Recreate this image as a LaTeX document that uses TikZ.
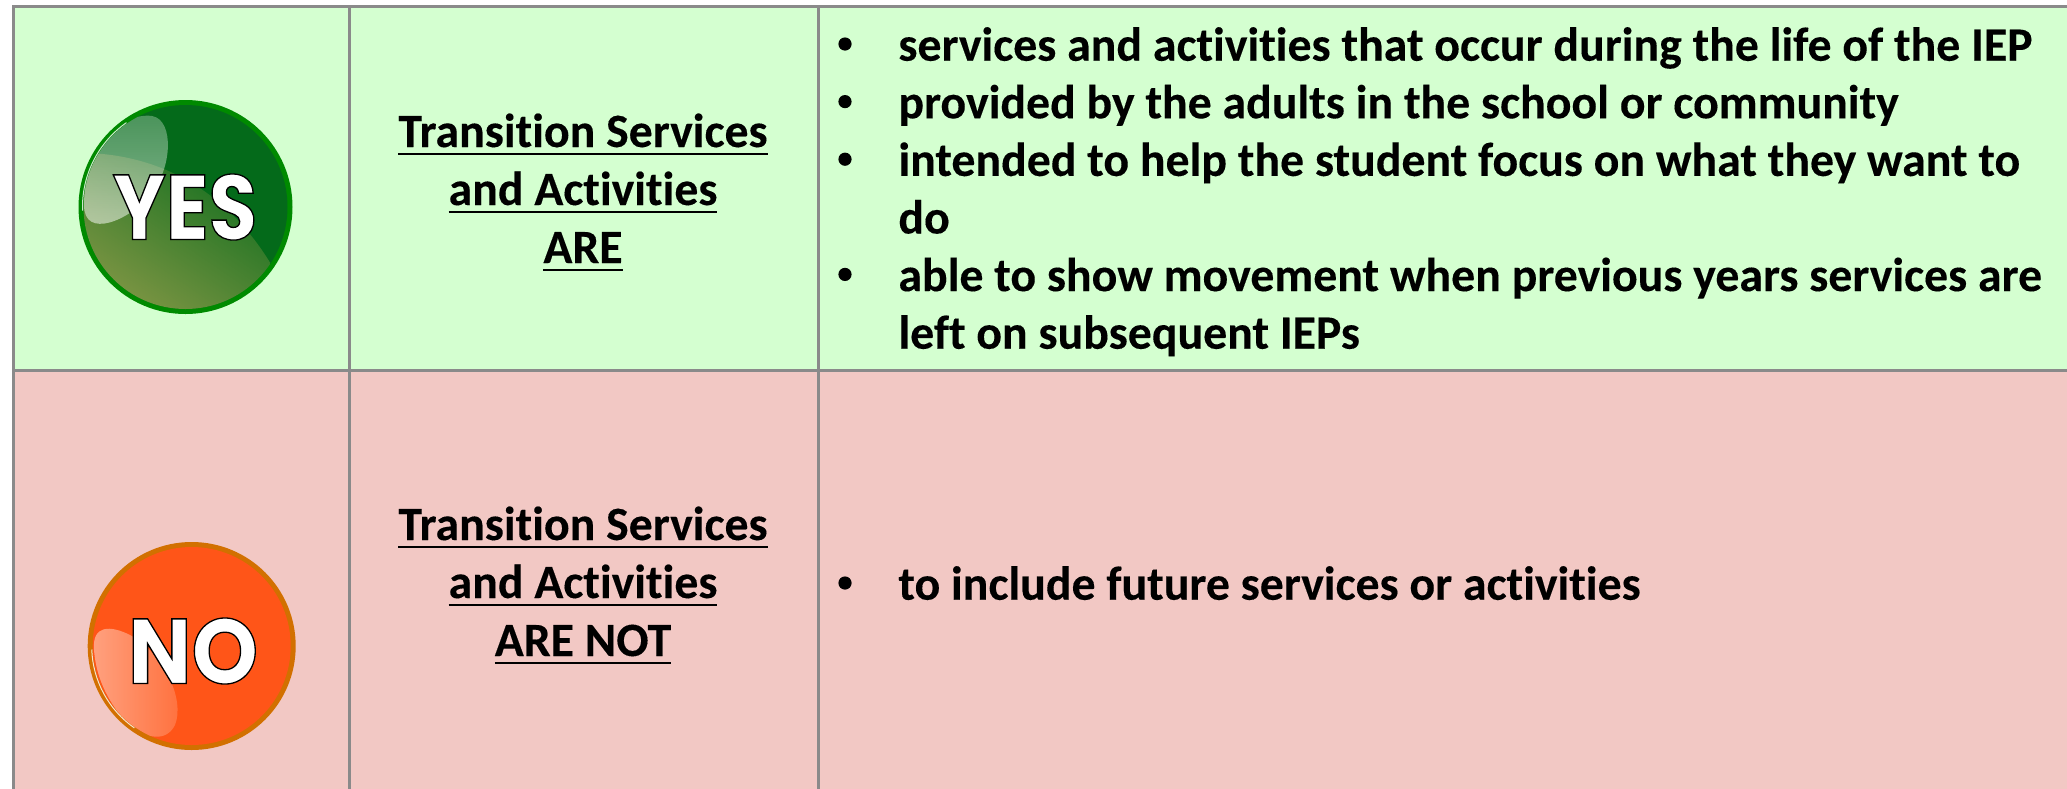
\documentclass[tikz,border=0pt]{standalone}
\usepackage{fontspec}
\setmainfont{Carlito}[Ligatures=NoCommon,BoldFeatures={FakeBold=0.2}]
\newfontfamily\badgeY{Poppins}[FakeStretch=0.86]
\newfontfamily\badgeN{Poppins}[FakeStretch=0.92]
\usetikzlibrary{fadings}
\definecolor{gridgrey}{HTML}{8A8A8A}
\definecolor{yesbg}{HTML}{D4FFD0}
\definecolor{nobg}{HTML}{F2C8C4}
\definecolor{yesring}{HTML}{008A00}
\definecolor{yesbase}{HTML}{046A1A}
\definecolor{noring}{HTML}{D27000}
\definecolor{nobase}{HTML}{FF5518}
\definecolor{olive}{HTML}{8A9A48}
\newsavebox{\ulbox}
\newcommand{\ul}[1]{\sbox{\ulbox}{#1}\rlap{\vrule width \wd\ulbox height -2.8pt depth 4.2pt}\usebox{\ulbox}}
\newcommand{\outlined}[1]{\special{pdf:code q 2 Tr 0.65 w 0 0 0 RG 1 1 1 rg}#1\special{pdf:code Q}}
\tikzfading[name=fadelens, left color=transparent!5, right color=transparent!90]
\tikzfading[name=fadeglowY, top color=transparent!72, bottom color=transparent!45]
\tikzfading[name=fadeglowN, left color=transparent!55, right color=transparent!85]
\tikzset{
  cell/.style={draw=gridgrey, line width=1.5pt},
  listtext/.style={anchor=base west, inner sep=0pt, font=\fontsize{23.9}{29}\selectfont\bfseries, align=left},
  bulletmark/.style={anchor=center, inner sep=0pt, circle, fill=black, minimum size=6.6pt},
  headtext/.style={anchor=base, inner sep=0pt, font=\fontsize{23.9}{29}\selectfont\bfseries},
  badge/.style={inner sep=0pt, text=white, font=\fontsize{46}{46}\selectfont\bfseries}
}
\begin{document}
\begin{tikzpicture}[x=0.5pt,y=-0.5pt]
\useasboundingbox (0,0) rectangle (2067,788);
\fill[white] (0,0) rectangle (2067,788);
% cells
\path[cell, fill=yesbg] (13,6) rectangle (349,370);
\path[cell, fill=yesbg] (349,6) rectangle (818,370);
\path[cell, fill=yesbg] (818,6) rectangle (2075,370);
\path[cell, fill=nobg] (13,370) rectangle (349,796);
\path[cell, fill=nobg] (349,370) rectangle (818,796);
\path[cell, fill=nobg] (818,370) rectangle (2075,796);
% YES badge
\fill[yesring] (185.5,207) circle (107);
\fill[yesbase] (185.5,207) circle (102);
\begin{scope}
 \clip (185.5,207) circle (102);
 \fill[olive, path fading=fadelens, fading angle=50]
   (70,153) .. controls (150,150) and (230,185) .. (280,280) -- (280,320) -- (70,320) -- cycle;
 \fill[white, path fading=fadeglowY]
   (84,205) .. controls (84,150) and (120,112) .. (152,116)
   .. controls (175,120) and (172,170) .. (150,195)
   .. controls (130,220) and (84,240) .. (84,205) -- cycle;
\end{scope}
\draw[white, opacity=.8, line width=.5pt] (185.5,207) ++(178:103) arc (178:235:103);
% NO badge
\fill[noring] (191.7,646) circle (104);
\fill[nobase] (191.7,646) circle (99);
\begin{scope}
 \clip (191.7,646) circle (99);
 \fill[white, path fading=fadeglowN]
   (94,650) .. controls (92,625) and (110,625) .. (130,635)
   .. controls (165,655) and (185,700) .. (175,725)
   .. controls (165,745) and (140,738) .. (120,715)
   .. controls (105,695) and (96,675) .. (94,650) -- cycle;
\end{scope}
\draw[white, opacity=.8, line width=.5pt] (191.7,646) ++(178:100) arc (178:125:100);
\node[badge] (yes) at (185,207) {\badgeY\bfseries\outlined{YES}};
\node[badge] (no) at (193,651) {\badgeN\bfseries\outlined{NO}};
% middle column
\node[headtext] (h1) at (583,147) {\ul{Transition Services}};
\node[headtext] (h2) at (583,205) {\ul{and Activities}};
\node[headtext] (h3) at (583,263) {\ul{ARE}};
\node[headtext] (h4) at (583,540) {\ul{Transition Services}};
\node[headtext] (h5) at (583,598) {\ul{and Activities}};
\node[headtext] (h6) at (583,656) {\ul{ARE NOT}};
% list
\node[bulletmark] (b1) at (845,44) {};
\node[listtext] (t1) at (898,60.7) {services and activities that occur during the life of the IEP};
\node[bulletmark] (b2) at (845,101.6) {};
\node[listtext] (t2) at (898,118.3) {provided by the adults in the school or community};
\node[bulletmark] (b3) at (845,159.2) {};
\node[listtext] (t3) at (898,175.9) {intended to help the student focus on what they want to};
\node[listtext] (t3b) at (898,233.5) {do};
\node[bulletmark] (b4) at (845,274.4) {};
\node[listtext] (t4) at (898,291.1) {able to show movement when previous years services are};
\node[listtext] (t4b) at (898,348.7) {left on subsequent IEPs};
\node[bulletmark] (b5) at (845,583) {};
\node[listtext] (t5) at (898,599.7) {to include future services or activities};
\end{tikzpicture}
\end{document}
